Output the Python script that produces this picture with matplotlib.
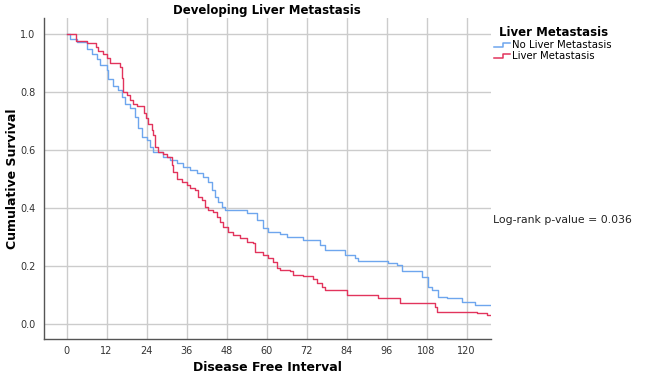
import matplotlib
matplotlib.use("Agg")
import matplotlib.pyplot as plt
from matplotlib.legend_handler import HandlerBase
from matplotlib.lines import Line2D

# Kaplan-Meier steps: (time, survival after drop)
t_no = [0, 1, 3, 6, 7.5, 9, 10, 12, 12.5, 14, 15.5, 16.5, 17.5, 19, 20.5, 21.5,
        22.5, 24, 25, 26, 29, 31, 33, 35, 37, 39, 41, 42.5, 43.5, 44.5, 45.5,
        46.5, 47.5, 54, 57, 59, 60.5, 64, 66, 71, 76, 77.5, 83.5, 86.5, 87.5,
        96.5, 99, 100.5, 106.5, 108.5, 109.5, 111.5, 114, 118.5, 122.5, 127.3]
s_no = [1.0, 0.984, 0.972, 0.95, 0.93, 0.915, 0.892, 0.875, 0.846, 0.82, 0.806,
        0.783, 0.76, 0.743, 0.714, 0.674, 0.645, 0.633, 0.61, 0.593, 0.576,
        0.564, 0.553, 0.541, 0.53, 0.519, 0.507, 0.49, 0.461, 0.438, 0.42,
        0.403, 0.392, 0.381, 0.358, 0.329, 0.317, 0.311, 0.30, 0.289, 0.271,
        0.254, 0.237, 0.226, 0.216, 0.208, 0.203, 0.183, 0.162, 0.128, 0.116,
        0.093, 0.087, 0.076, 0.064, 0.064]

t_lm = [0, 2.8, 6, 8.7, 9.5, 11, 12, 13, 16, 16.5, 17, 18, 19, 19.8, 21, 23.2,
        23.8, 24.5, 25.5, 26, 26.5, 27.5, 29, 30, 31.5, 32, 33, 34.5, 36, 37,
        38.5, 39.5, 40.5, 41.5, 42.5, 44, 45, 46, 47, 48.5, 50, 52, 54, 56,
        56.5, 59, 60.5, 62, 63, 64, 67, 68, 71, 74, 75, 76.5, 77.5, 84, 93.5,
        100, 110.5, 111, 123, 126, 127.3]
s_lm = [1.0, 0.977, 0.968, 0.956, 0.94, 0.93, 0.916, 0.90, 0.886, 0.847, 0.80,
        0.79, 0.772, 0.76, 0.75, 0.727, 0.71, 0.69, 0.668, 0.65, 0.61, 0.593,
        0.585, 0.576, 0.547, 0.524, 0.501, 0.49, 0.478, 0.47, 0.46, 0.438,
        0.427, 0.403, 0.392, 0.386, 0.369, 0.352, 0.334, 0.317, 0.306, 0.294,
        0.283, 0.277, 0.248, 0.237, 0.225, 0.214, 0.191, 0.186, 0.18, 0.168,
        0.163, 0.154, 0.139, 0.128, 0.116, 0.099, 0.087, 0.07, 0.059, 0.041,
        0.036, 0.030, 0.030]

xticks = [0, 12, 24, 36, 48, 60, 72, 84, 96, 108, 120]
yticks = [0.0, 0.2, 0.4, 0.6, 0.8, 1.0]
blue = '#6ea6ee'
red = '#e2345c'


class StepHandler(HandlerBase):
    # small step symbol like the SPSS legend
    def create_artists(self, legend, orig, xd, yd, w, h, fontsize, trans):
        xs = [xd, xd + w * 0.55, xd + w * 0.55, xd + w]
        ys = [yd + h * 0.2, yd + h * 0.2, yd + h * 0.8, yd + h * 0.8]
        ln = Line2D(xs, ys, color=orig.get_color(), lw=1.1, transform=trans)
        return [ln]


fig = plt.figure(figsize=(6.45, 3.8), dpi=100)
ax = fig.add_axes([0.068, 0.108, 0.693, 0.845])

ax.grid(True, color='#cccccc', linewidth=1)
ax.set_axisbelow(True)
l1, = ax.step(t_no, s_no, where='post', color=blue, lw=1.0,
              label='No Liver Metastasis')
l2, = ax.step(t_lm, s_lm, where='post', color=red, lw=1.0,
              label='Liver Metastasis')

ax.set_xlim(-6.8, 127.3)
ax.set_ylim(-0.053, 1.056)
ax.set_xticks(xticks)
ax.set_xticklabels([str(v) for v in xticks])
ax.set_yticks(yticks)
ax.set_yticklabels(['%.1f' % v for v in yticks])
ax.tick_params(labelsize=7, colors='#333333', length=0)
ax.tick_params(axis='x', pad=5)
ax.tick_params(axis='y', pad=6)
for side in ['top', 'right']:
    ax.spines[side].set_visible(False)
for side in ['left', 'bottom']:
    ax.spines[side].set_color('#555555')
    ax.spines[side].set_linewidth(1)

ax.set_title('Developing Liver Metastasis', fontsize=8.5, fontweight='bold',
             pad=3)
ax.set_xlabel('Disease Free Interval', fontsize=9, fontweight='bold')
ax.xaxis.set_label_coords(0.5, -0.07)
ax.set_ylabel('Cumulative Survival', fontsize=9, fontweight='bold')
ax.yaxis.set_label_coords(-0.055, 0.5)

leg = fig.legend(handles=[l1, l2], title='Liver Metastasis',
                 loc='upper left', bbox_to_anchor=(0.752, 0.955),
                 frameon=False, fontsize=7.3, title_fontsize=8.5,
                 handler_map={Line2D: StepHandler()}, handlelength=1.6,
                 handletextpad=0.2, labelspacing=0.1)
leg.get_title().set_fontweight('bold')

fig.text(0.765, 0.42, 'Log-rank p-value = 0.036', fontsize=7.8,
         color='#222222', va='center')

fig.savefig('out.png', dpi=100)
